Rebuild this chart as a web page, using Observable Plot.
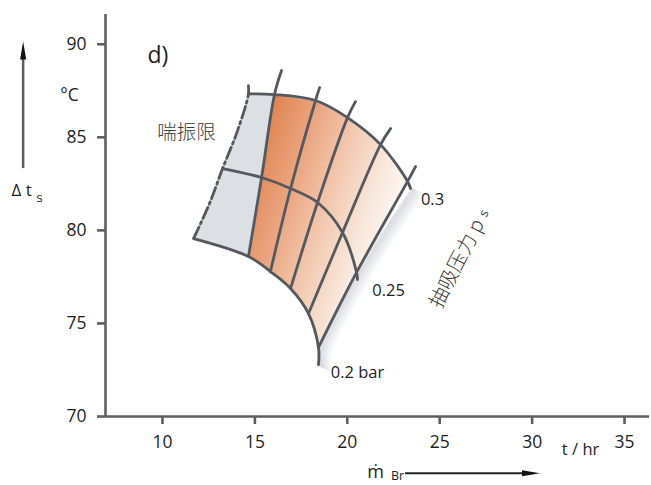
<!DOCTYPE html>
<html><head><meta charset="utf-8">
<script src="https://cdn.jsdelivr.net/npm/d3@7"></script>
<script src="https://cdn.jsdelivr.net/npm/@observablehq/plot@0.6"></script>
<style>
html,body{margin:0;padding:0;background:#fff;}
#chart{width:651px;height:485px;}
</style></head><body><div id="chart"></div>
<script>
// Suction-pressure curves (bar): nodes where each curve meets the 6 cross lines (surge line first), plus the curve end
const pressures = [0.2, 0.25, 0.3];
const p02X  = [11.68, 14.65, 15.84, 16.93, 17.90, 18.44, 18.44];
const p02Y  = [79.56, 78.60, 77.79, 76.88, 75.53, 73.71, 72.79];
const p025X = [13.25, 15.36, 16.93, 18.39, 19.74, 20.50, 20.55];
const p025Y = [83.32, 82.84, 82.25, 81.50, 79.89, 77.74, 77.36];
const p03X  = [14.65, 16.06, 18.28, 20.01, 21.80, 23.26, 23.42];
const p03Y  = [87.33, 87.30, 86.98, 86.06, 84.61, 82.63, 82.25];
// upper ends of the 6 cross lines (beyond the 0.3 bar curve)
const topX = [14.65, 16.44, 18.50, 20.44, 22.34, 23.69];
const topY = [87.78, 88.59, 87.67, 86.92, 85.47, 83.43];
// extra points read on the surge-limit line (between the pressure curves)
const surgeX = [14.06, 12.54];
const surgeY = [85.36, 81.44];
// axes
const xTicks = [10, 15, 20, 25, 30, 35];
const yTicks = [70, 75, 80, 85, 90];
const xDomain = [6.916, 36.35];
const yDomain = [70, 91.6];
// labels
const pressureLabels = ["0.2 bar", "0.25", "0.3"];
const surgeLabel = "喘振限";
const suctionLabel = "抽吸压力 p";

const pt = (X, Y, i) => ({x: X[i], y: Y[i]});
const curves = [[p02X, p02Y], [p025X, p025Y], [p03X, p03Y]];
const curveData = curves.flatMap(([X, Y], k) => X.map((_, i) => ({...pt(X, Y, i), p: pressures[k]})));

// cross lines
const crossLines = [];
for (let i = 0; i < 6; i++) {
  let pts;
  if (i === 0) {
    pts = [pt(topX, topY, 0), pt(p03X, p03Y, 0), pt(surgeX, surgeY, 0), pt(p025X, p025Y, 0), pt(surgeX, surgeY, 1), pt(p02X, p02Y, 0)];
  } else {
    pts = [pt(topX, topY, i), pt(p03X, p03Y, i), pt(p025X, p025Y, i), pt(p02X, p02Y, i)];
  }
  pts.forEach(d => crossLines.push({...d, line: i}));
}
const surgeLine = crossLines.filter(d => d.line === 0);
const otherLines = crossLines.filter(d => d.line > 0);

// fills
const grayPoly = [pt(p03X, p03Y, 0), pt(p03X, p03Y, 1), pt(p025X, p025Y, 1), pt(p02X, p02Y, 1),
  pt(p02X, p02Y, 0), pt(surgeX, surgeY, 1), pt(p025X, p025Y, 0), pt(surgeX, surgeY, 0)];
const orangePoly = [];
for (let i = 1; i <= 5; i++) orangePoly.push(pt(p03X, p03Y, i));
orangePoly.push(pt(p025X, p025Y, 5));
for (let i = 5; i >= 1; i--) orangePoly.push(pt(p02X, p02Y, i));
orangePoly.push(pt(p025X, p025Y, 1));

// shadow path along the outer cross line
const shadowPath = [pt(p03X, p03Y, 6), pt(p025X, p025Y, 5), pt(p02X, p02Y, 5), pt(p02X, p02Y, 6)];

const upHead = {draw(ctx, size) { const r = Math.sqrt(size / Math.PI); ctx.moveTo(0, -r); ctx.lineTo(r * 0.34, r); ctx.lineTo(-r * 0.34, r); ctx.closePath(); }};
const rightHead = {draw(ctx, size) { const r = Math.sqrt(size / Math.PI); ctx.moveTo(r, 0); ctx.lineTo(-r, r * 0.34); ctx.lineTo(-r, -r * 0.34); ctx.closePath(); }};

const SANS = "'Open Sans', 'DejaVu Sans', sans-serif";
const CJK = "'Noto Sans CJK SC', sans-serif";
const MESH = "#55595e";
const AXIS = "#5e5e5e";

const shadowOffsets = [2, 4, 6, 8, 10, 12, 14];
const shadowMarks = shadowOffsets.map((k, j) => Plot.line(shadowPath, {
  x: "x", y: "y", curve: "catmull-rom", dx: 0.88 * k, dy: 0.45 * k,
  stroke: "#b4bbc6", strokeWidth: 3.2, strokeOpacity: 0.36 * (1 - j / shadowOffsets.length)
}));

const txt = (s, x, y, o = {}) => Plot.text([s], {x, y, text: d => d, fontFamily: SANS, fontSize: 16.5, fill: "#1e1e1e", ...o});

const chart = Plot.plot({
  width: 651, height: 485,
  marginLeft: 105, marginRight: 2, marginTop: 14, marginBottom: 69,
  x: {domain: xDomain},
  y: {domain: yDomain},
  style: {fontFamily: SANS, fontSize: "17.5px", color: "#1e1e1e", background: "white", overflow: "visible"},
  marks: [
    Plot.line(grayPoly, {x: "x", y: "y", curve: "linear-closed", fill: "#dcdfe4", stroke: "none"}),
    Plot.line(orangePoly, {x: "x", y: "y", curve: "linear-closed", fill: "url(#orangeGrad)", stroke: "none"}),
    ...shadowMarks,
    Plot.line(curveData, {x: "x", y: "y", z: "p", curve: "catmull-rom", stroke: MESH, strokeWidth: 2.8}),
    Plot.line(otherLines, {x: "x", y: "y", z: "line", curve: "catmull-rom", stroke: MESH, strokeWidth: 2.8}),
    Plot.line(surgeLine, {x: "x", y: "y", curve: "catmull-rom", stroke: MESH, strokeWidth: 2.8, strokeDasharray: "12,3.5,2.5,3.5"}),
    // axes
    Plot.ruleY([yDomain[0]], {stroke: AXIS, strokeWidth: 2.6}),
    Plot.ruleX([xDomain[0]], {stroke: AXIS, strokeWidth: 2.6}),
    Plot.axisX({ticks: xTicks, tickSize: 8, tickPadding: 11, label: null, stroke: AXIS, strokeWidth: 2.6, fontSize: 17.5}),
    Plot.axisY({ticks: yTicks, tickSize: 8, tickPadding: 11, label: null, stroke: AXIS, strokeWidth: 2.6, fontSize: 17.5}),
    // labels
    txt("d)", 9.19, 89.39, {textAnchor: "start", fontSize: 23}),
    txt("°C", 4.97, 87.24, {fontSize: 17.5}),
    txt("Δ t", 1.83, 82.14, {textAnchor: "start", fontSize: 17}),
    txt("s", 3.17, 81.74, {textAnchor: "start", fontSize: 13.5}),
    txt(surgeLabel, 11.30, 85.26, {fontFamily: CJK, fontSize: 19.5, fill: "#3a3a3a", fontWeight: 300}),
    txt(pressureLabels[2], 24.61, 81.66),
    txt(pressureLabels[1], 22.23, 76.77),
    txt(pressureLabels[0], 20.55, 72.36),
    txt(suctionLabel, 25.94, 78.22, {fontFamily: CJK, fontSize: 20, rotate: -63, fill: "#3a3a3a", fontWeight: 300}),
    txt("s", 27.39, 80.92, {fontSize: 13, rotate: -63, fill: "#3a3a3a"}),
    txt("t / hr", 32.62, 68.23, {fontSize: 16.5}),
    txt("ṁ", 21.53, 67.02, {fontSize: 18}),
    txt("Br", 22.72, 66.80, {fontSize: 12.5}),
    // arrows
    Plot.ruleX([2.46], {y1: 83.32, y2: 89.3, stroke: AXIS, strokeWidth: 2.5}),
    Plot.dot([0], {x: 2.46, y: 89.66, symbol: upHead, r: 9, fill: "#111", stroke: "none"}),
    Plot.ruleY([66.95], {x1: 23.15, x2: 29.6, stroke: "#222", strokeWidth: 2}),
    Plot.dot([0], {x: 29.94, y: 66.95, symbol: rightHead, r: 9, fill: "#111", stroke: "none"})
  ]
});

// gradient for the orange part of the field
const sx = chart.scale("x"), sy = chart.scale("y");
const gx1 = sx.apply(p03X[1]), gy1 = sy.apply(p03Y[1]);
const gx2 = gx1 + 155 * 0.95, gy2 = gy1 + 155 * 0.32;
const svgSel = d3.select(chart.tagName.toLowerCase() === "svg" ? chart : chart.querySelector("svg"));
const defs = svgSel.insert("defs", ":first-child");
const lg = defs.append("linearGradient").attr("id", "orangeGrad").attr("gradientUnits", "userSpaceOnUse")
  .attr("x1", gx1).attr("y1", gy1).attr("x2", gx2).attr("y2", gy2);
[[0, "#e0844f"], [0.28, "#eaa47f"], [0.55, "#f2c8af"], [0.8, "#f8e6da"], [1, "#fdf8f5"]]
  .forEach(([o, c]) => lg.append("stop").attr("offset", o).attr("stop-color", c));

document.getElementById("chart").appendChild(chart);
</script>
</body></html>
